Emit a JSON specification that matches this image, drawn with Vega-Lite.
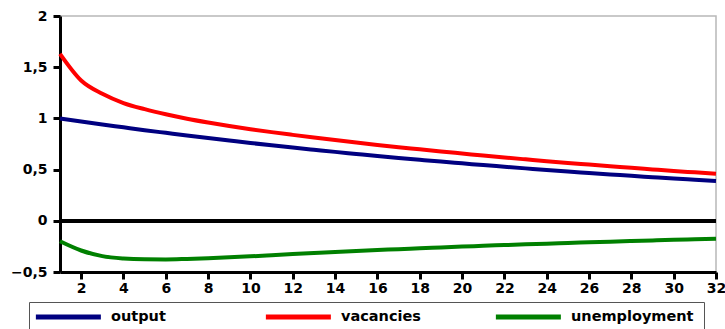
{
  "$schema": "https://vega.github.io/schema/vega-lite/v6.json",
  "autosize": "none",
  "width": 656,
  "height": 256,
  "padding": {"left": 60, "top": 16, "right": 9, "bottom": 57},
  "background": "white",
  "config": {
    "view": {"stroke": "#b8b8b8", "strokeWidth": 1.5},
    "font": "DejaVu Sans"
  },
  "datasets": {
    "irf": [
      {"t": 1, "series": "output", "v": 1.0},
      {"t": 2, "series": "output", "v": 0.97},
      {"t": 3, "series": "output", "v": 0.941},
      {"t": 4, "series": "output", "v": 0.913},
      {"t": 5, "series": "output", "v": 0.885},
      {"t": 6, "series": "output", "v": 0.859},
      {"t": 7, "series": "output", "v": 0.833},
      {"t": 8, "series": "output", "v": 0.808},
      {"t": 9, "series": "output", "v": 0.784},
      {"t": 10, "series": "output", "v": 0.76},
      {"t": 11, "series": "output", "v": 0.737},
      {"t": 12, "series": "output", "v": 0.715},
      {"t": 13, "series": "output", "v": 0.694},
      {"t": 14, "series": "output", "v": 0.673},
      {"t": 15, "series": "output", "v": 0.653},
      {"t": 16, "series": "output", "v": 0.633},
      {"t": 17, "series": "output", "v": 0.614},
      {"t": 18, "series": "output", "v": 0.596},
      {"t": 19, "series": "output", "v": 0.578},
      {"t": 20, "series": "output", "v": 0.561},
      {"t": 21, "series": "output", "v": 0.544},
      {"t": 22, "series": "output", "v": 0.528},
      {"t": 23, "series": "output", "v": 0.512},
      {"t": 24, "series": "output", "v": 0.496},
      {"t": 25, "series": "output", "v": 0.481},
      {"t": 26, "series": "output", "v": 0.467},
      {"t": 27, "series": "output", "v": 0.453},
      {"t": 28, "series": "output", "v": 0.439},
      {"t": 29, "series": "output", "v": 0.426},
      {"t": 30, "series": "output", "v": 0.413},
      {"t": 31, "series": "output", "v": 0.401},
      {"t": 32, "series": "output", "v": 0.389},
      {"t": 1, "series": "vacancies", "v": 1.63},
      {"t": 2, "series": "vacancies", "v": 1.37},
      {"t": 3, "series": "vacancies", "v": 1.24},
      {"t": 4, "series": "vacancies", "v": 1.15},
      {"t": 5, "series": "vacancies", "v": 1.09},
      {"t": 6, "series": "vacancies", "v": 1.04},
      {"t": 7, "series": "vacancies", "v": 0.997},
      {"t": 8, "series": "vacancies", "v": 0.96},
      {"t": 9, "series": "vacancies", "v": 0.926},
      {"t": 10, "series": "vacancies", "v": 0.895},
      {"t": 11, "series": "vacancies", "v": 0.866},
      {"t": 12, "series": "vacancies", "v": 0.839},
      {"t": 13, "series": "vacancies", "v": 0.813},
      {"t": 14, "series": "vacancies", "v": 0.788},
      {"t": 15, "series": "vacancies", "v": 0.764},
      {"t": 16, "series": "vacancies", "v": 0.741},
      {"t": 17, "series": "vacancies", "v": 0.719},
      {"t": 18, "series": "vacancies", "v": 0.698},
      {"t": 19, "series": "vacancies", "v": 0.677},
      {"t": 20, "series": "vacancies", "v": 0.657},
      {"t": 21, "series": "vacancies", "v": 0.637},
      {"t": 22, "series": "vacancies", "v": 0.618},
      {"t": 23, "series": "vacancies", "v": 0.6},
      {"t": 24, "series": "vacancies", "v": 0.582},
      {"t": 25, "series": "vacancies", "v": 0.565},
      {"t": 26, "series": "vacancies", "v": 0.549},
      {"t": 27, "series": "vacancies", "v": 0.533},
      {"t": 28, "series": "vacancies", "v": 0.517},
      {"t": 29, "series": "vacancies", "v": 0.502},
      {"t": 30, "series": "vacancies", "v": 0.487},
      {"t": 31, "series": "vacancies", "v": 0.473},
      {"t": 32, "series": "vacancies", "v": 0.459},
      {"t": 1, "series": "unemployment", "v": -0.2},
      {"t": 2, "series": "unemployment", "v": -0.29},
      {"t": 3, "series": "unemployment", "v": -0.345},
      {"t": 4, "series": "unemployment", "v": -0.368},
      {"t": 5, "series": "unemployment", "v": -0.376},
      {"t": 6, "series": "unemployment", "v": -0.377},
      {"t": 7, "series": "unemployment", "v": -0.372},
      {"t": 8, "series": "unemployment", "v": -0.365},
      {"t": 9, "series": "unemployment", "v": -0.357},
      {"t": 10, "series": "unemployment", "v": -0.347},
      {"t": 11, "series": "unemployment", "v": -0.336},
      {"t": 12, "series": "unemployment", "v": -0.325},
      {"t": 13, "series": "unemployment", "v": -0.315},
      {"t": 14, "series": "unemployment", "v": -0.305},
      {"t": 15, "series": "unemployment", "v": -0.295},
      {"t": 16, "series": "unemployment", "v": -0.286},
      {"t": 17, "series": "unemployment", "v": -0.277},
      {"t": 18, "series": "unemployment", "v": -0.268},
      {"t": 19, "series": "unemployment", "v": -0.26},
      {"t": 20, "series": "unemployment", "v": -0.252},
      {"t": 21, "series": "unemployment", "v": -0.244},
      {"t": 22, "series": "unemployment", "v": -0.237},
      {"t": 23, "series": "unemployment", "v": -0.23},
      {"t": 24, "series": "unemployment", "v": -0.223},
      {"t": 25, "series": "unemployment", "v": -0.216},
      {"t": 26, "series": "unemployment", "v": -0.21},
      {"t": 27, "series": "unemployment", "v": -0.204},
      {"t": 28, "series": "unemployment", "v": -0.198},
      {"t": 29, "series": "unemployment", "v": -0.192},
      {"t": 30, "series": "unemployment", "v": -0.186},
      {"t": 31, "series": "unemployment", "v": -0.181},
      {"t": 32, "series": "unemployment", "v": -0.176}
    ]
  },
  "data": {"name": "irf"},
  "layer": [
    {
      "mark": {"type": "rule", "color": "black", "strokeWidth": 3},
      "encoding": {"y": {"datum": 0, "type": "quantitative"}}
    },
    {
      "mark": {"type": "line", "strokeWidth": 4, "interpolate": "monotone"},
      "encoding": {
        "x": {
          "field": "t",
          "type": "quantitative",
          "scale": {"domain": [1, 32], "nice": false, "zero": false},
          "axis": {
            "title": null,
            "values": [2, 4, 6, 8, 10, 12, 14, 16, 18, 20, 22, 24, 26, 28, 30, 32],
            "grid": false,
            "domainColor": "black",
            "domainWidth": 3,
            "tickColor": "black",
            "tickWidth": 3,
            "tickSize": 7,
            "labelFont": "DejaVu Sans",
            "labelFontWeight": "bold",
            "labelFontSize": 14,
            "labelColor": "black",
            "labelPadding": 2,
            "labelFlush": false,
            "labelOverlap": false
          }
        },
        "y": {
          "field": "v",
          "type": "quantitative",
          "scale": {"domain": [-0.5, 2], "nice": false},
          "axis": {
            "title": null,
            "values": [-0.5, 0, 0.5, 1, 1.5, 2],
            "labelExpr": "replace(format(datum.value, ''), '.', ',')",
            "grid": false,
            "domainColor": "black",
            "domainWidth": 3,
            "tickColor": "black",
            "tickWidth": 3,
            "tickSize": 7,
            "labelFont": "DejaVu Sans",
            "labelFontWeight": "bold",
            "labelFontSize": 14,
            "labelColor": "black",
            "labelPadding": 6,
            "labelFlush": false,
            "labelOverlap": false
          }
        },
        "color": {
          "field": "series",
          "type": "nominal",
          "scale": {
            "domain": ["output", "vacancies", "unemployment"],
            "range": ["#000080", "#ff0000", "#008000"]
          },
          "legend": {
            "title": null,
            "orient": "none",
            "legendX": -31,
            "legendY": 286,
            "direction": "horizontal",
            "columns": 3,
            "gridAlign": "all",
            "columnPadding": 15,
            "symbolType": "M-1,0H7M22.8,0",
            "symbolSize": 264,
            "symbolStrokeWidth": 5,
            "symbolFillColor": "transparent",
            "labelFont": "DejaVu Sans",
            "labelFontWeight": "bold",
            "labelFontSize": 14.5,
            "labelColor": "black",
            "labelOffset": 56,
            "labelLimit": 300,
            "padding": 4,
            "strokeColor": "#555555",
            "fillColor": "white",
            "cornerRadius": 0
          }
        }
      }
    }
  ]
}
